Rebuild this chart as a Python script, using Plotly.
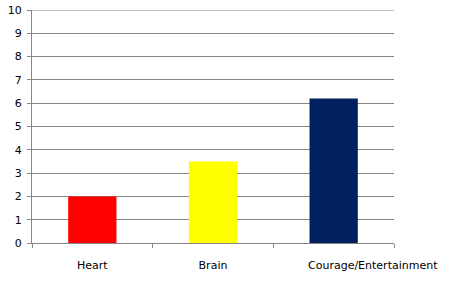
import plotly.graph_objects as go

categories = ["Heart", "Brain", "Courage/Entertainment"]
values = [2, 3.5, 6.2]
colors = ["#FF0000", "#FFFF00", "#002060"]
y_ticks = list(range(0, 11))

fig = go.Figure(go.Bar(x=categories, y=values, marker=dict(color=colors, line=dict(width=0)), width=0.4))

fig.update_layout(
    width=451, height=291,
    margin=dict(l=32, r=57, t=10, b=48),
    paper_bgcolor="white", plot_bgcolor="white",
    font=dict(family="DejaVu Sans", size=11, color="black"),
    showlegend=False,
)
# last label is drawn shifted right as in the reference
fig.update_xaxes(
    range=[-0.5, len(categories) - 0.5],
    tickvals=categories, ticktext=categories[:-1] + [""],
    showline=True, linecolor="#868686", linewidth=1,
    ticks="outside", tickson="boundaries", ticklen=4, tickcolor="#868686",
    showgrid=False, ticklabelstandoff=12, tickangle=0, automargin=False,
)
fig.add_annotation(
    x=len(categories) - 1, xref="x", y=0, yref="paper", yanchor="top",
    text=categories[-1], showarrow=False, xshift=39, yshift=-14,
    font=dict(family="DejaVu Sans", size=11, color="black"),
)
fig.add_shape(type="line", xref="paper", yref="y", x0=0, x1=1,
              y0=y_ticks[-1], y1=y_ticks[-1], line=dict(color="#868686", width=1))
fig.update_yaxes(
    range=[0, 10], tickvals=y_ticks,
    showline=True, linecolor="#868686", linewidth=1,
    ticks="outside", ticklen=4, tickcolor="#868686",
    showgrid=True, gridcolor="#868686", gridwidth=1,
    zeroline=False, ticklabelstandoff=3, automargin=False,
)
fig.write_html("out.html")
